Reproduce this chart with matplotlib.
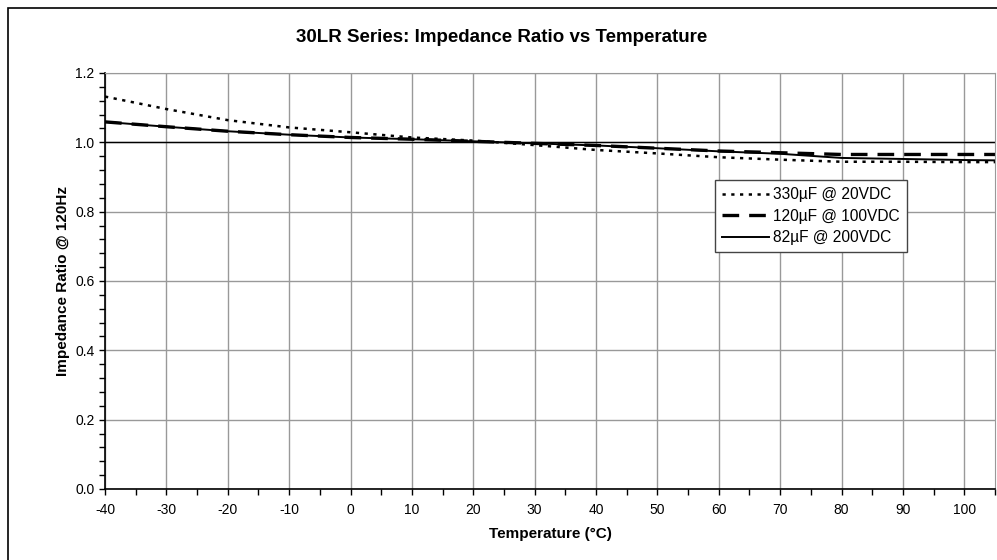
from matplotlib import pyplot as plt
from matplotlib.patches import Rectangle
from matplotlib.ticker import MultipleLocator

temps = [-40, -30, -20, -10, 0, 10, 20, 30, 40, 50, 60, 70, 80, 90, 100, 105]
z_330uf = [1.132, 1.096, 1.064, 1.043, 1.029, 1.014, 1.005, 0.992, 0.978, 0.968,
           0.957, 0.950, 0.944, 0.944, 0.943, 0.943]
z_120uf = [1.059, 1.045, 1.032, 1.022, 1.014, 1.009, 1.003, 0.997, 0.991, 0.983,
           0.975, 0.970, 0.965, 0.965, 0.965, 0.965]
z_82uf = [1.059, 1.045, 1.032, 1.022, 1.014, 1.009, 1.003, 0.997, 0.991, 0.983,
          0.974, 0.967, 0.955, 0.952, 0.949, 0.948]
labels = ['330µF @ 20VDC', '120µF @ 100VDC', '82µF @ 200VDC']


def main():
    plt.rcParams['font.family'] = ['Liberation Sans', 'DejaVu Sans']
    plt.rcParams['axes.unicode_minus'] = False
    fig = plt.figure(figsize=(9.97, 5.6), dpi=100)
    ax = fig.add_axes([105 / 997, 1 - 489 / 560, 890 / 997, 416 / 560])

    # outer chart border (only top/left visible in the reference)
    fig.patches.append(Rectangle((8 / 997, -1), 2, 2 - 8 / 560,
                                 transform=fig.transFigure, fill=False,
                                 edgecolor='black', linewidth=1.2))

    ax.plot(temps, z_330uf, color='black', lw=1.8, linestyle=(0, (1.3, 2.2)), label=labels[0])
    ax.plot(temps, z_120uf, color='black', lw=2.4, linestyle=(0, (5, 3)), label=labels[1])
    ax.plot(temps, z_82uf, color='black', lw=1.4, linestyle='-', label=labels[2])

    ax.set_xlim(-40, 105)
    ax.set_ylim(0, 1.2)
    ax.xaxis.set_major_locator(MultipleLocator(10))
    ax.xaxis.set_minor_locator(MultipleLocator(5))
    ax.yaxis.set_minor_locator(MultipleLocator(0.04))
    ax.set_yticks([0, 0.2, 0.4, 0.6, 0.8, 1.0, 1.2])
    ax.set_yticklabels(['0.0', '0.2', '0.4', '0.6', '0.8', '1.0', '1.2'])
    ax.grid(True, which='major', color='#999999', linewidth=1)
    ax.axhline(1.0, color='black', linewidth=1, zorder=1.5)
    ax.set_axisbelow(True)
    for s in ['top', 'right']:
        ax.spines[s].set_color('#999999')
    for s in ['left', 'bottom']:
        ax.spines[s].set_linewidth(1.2)
    ax.tick_params(which='both', labelsize=10, direction='out', length=4, width=1)
    ax.tick_params(axis='x', which='major', pad=6)

    fig.text(502 / 997, 1 - 37 / 560, '30LR Series: Impedance Ratio vs Temperature',
             fontsize=13.5, fontweight='bold', ha='center', va='center')
    ax.set_xlabel('Temperature (°C)', fontsize=11, fontweight='bold')
    ax.xaxis.set_label_coords((550 - 105) / 890, -(534 - 489) / 416)
    ax.set_ylabel('Impedance Ratio @ 120Hz', fontsize=11, fontweight='bold')
    ax.yaxis.set_label_coords(-(105 - 63) / 890, 0.5)
    ax.yaxis.label.set_va('center')
    ax.xaxis.label.set_va('center')

    leg = ax.legend(loc='upper left', bbox_to_anchor=(610 / 890, 1 - 107 / 416),
                    fontsize=11.2, fancybox=False, shadow=False, framealpha=1,
                    edgecolor='#444444', handlelength=3.0, handletextpad=0.3,
                    borderpad=0.45, labelspacing=0.42, borderaxespad=0)
    leg.get_frame().set_linewidth(1)

    fig.savefig('out.png', dpi=100)


if __name__ == "__main__":
    main()
